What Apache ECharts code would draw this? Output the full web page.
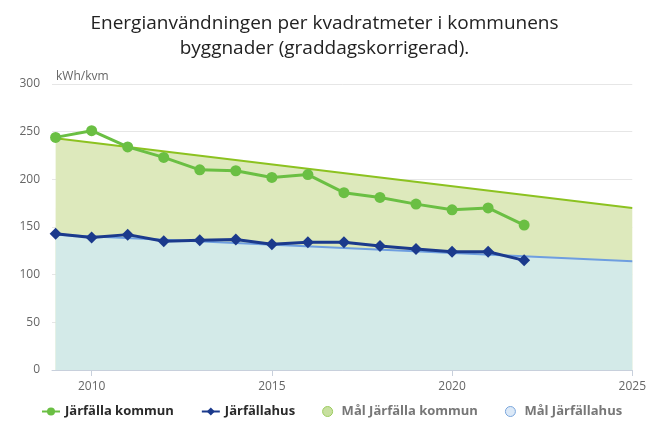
<!DOCTYPE html>
<html><head><meta charset="utf-8">
<script src="https://cdn.jsdelivr.net/npm/echarts@6/dist/echarts.min.js"></script>
<style>html,body{margin:0;padding:0;background:#fff}#c{width:649px;height:421px}</style>
</head><body><div id="c"></div>
<script>
var years = [2009,2010,2011,2012,2013,2014,2015,2016,2017,2018,2019,2020,2021,2022];
var kommun = [244,251,234,223,210,209,202,205,186,181,174,168,170,152];
var bolag = [143,139,142,135,136,137,132,134,134,130,127,124,124,115];
var targetYears = [2009,2025];
var targetKommun = [243,170];
var targetBolag = [142,114];
var xTicks = [2010,2015,2020,2025];

function pairs(xs, ys){ return xs.map(function(x,i){return [x, ys[i]];}); }

var chart = echarts.init(document.getElementById('c'));
var font = 'Open Sans';
chart.setOption({
  animation:false,
  title:{text:'Energianvändningen per kvadratmeter i kommunens\nbyggnader (graddagskorrigerad).', left:'center', top:6,
    textStyle:{fontFamily:font, fontSize:19, fontWeight:'normal', color:'#222', lineHeight:25}},
  grid:{left:52, right:4, top:84, bottom:51},
  xAxis:{type:'value', min:2008.9, max:2025,
    axisLine:{show:true, lineStyle:{color:'#c8d0dc'}},
    axisTick:{show:true, customValues:xTicks, length:6, lineStyle:{color:'#c8d0dc'}},
    axisLabel:{customValues:xTicks, color:'#666', fontFamily:font, fontSize:12, margin:11,
      formatter:function(v){return String(Math.round(v));}},
    splitLine:{show:false}},
  yAxis:{type:'value', min:0, max:300, interval:50,
    name:'kWh/kvm', nameLocation:'end', nameGap:1,
    nameTextStyle:{align:'left', color:'#666', fontFamily:font, fontSize:12, padding:[0,0,0,4]},
    axisLine:{show:false}, axisTick:{show:false},
    axisLabel:{color:'#666', fontFamily:font, fontSize:12, margin:12},
    splitLine:{lineStyle:{color:'#e6e6e6'}}},
  legend:{bottom:-2, left:36, itemGap:27, itemWidth:18, itemHeight:10,
    textStyle:{fontFamily:font, fontSize:13, fontWeight:'bold', color:'#2a2a2a'},
    data:[
      {name:'Järfälla kommun'},
      {name:'Järfällahus'},
      {name:'Mål Järfälla kommun', icon:'circle', itemStyle:{color:'#c8e0a0', borderColor:'#9ccc60', borderWidth:1}, textStyle:{color:'#777'}},
      {name:'Mål Järfällahus', icon:'circle', itemStyle:{color:'#dce9f7', borderColor:'#7aa6dc', borderWidth:1}, textStyle:{color:'#777'}}
    ]},
  series:[
    {name:'Mål Järfälla kommun', type:'line', data:pairs(targetYears,targetKommun), symbol:'none',
      lineStyle:{color:'#8cc220', width:2}, itemStyle:{color:'#8cc220'}, areaStyle:{color:'#dde9bc', opacity:1}},
    {name:'Mål Järfällahus', type:'line', data:pairs(targetYears,targetBolag), symbol:'none',
      lineStyle:{color:'#6e9ee0', width:2}, itemStyle:{color:'#6e9ee0'}, areaStyle:{color:'#d3eae8', opacity:1}},
    {name:'Järfälla kommun', type:'line', data:pairs(years,kommun), symbol:'circle', symbolSize:11,
      lineStyle:{color:'#6abf43', width:3}, itemStyle:{color:'#6abf43'}},
    {name:'Järfällahus', type:'line', data:pairs(years,bolag), symbol:'diamond', symbolSize:12,
      lineStyle:{color:'#1b3a8c', width:3}, itemStyle:{color:'#1b3a8c'}}
  ]
});
</script></body></html>
